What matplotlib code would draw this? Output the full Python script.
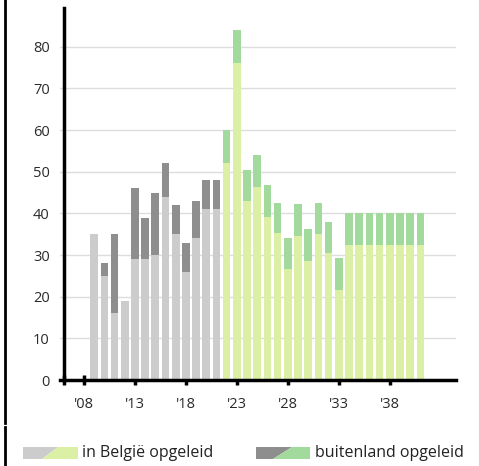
import matplotlib.pyplot as plt
from matplotlib.patches import Polygon
from matplotlib.lines import Line2D

plt.rcParams['font.family'] = ['Open Sans', 'DejaVu Sans']

# observed years (grey) and projection years (green)
years_obs = list(range(2009, 2022))
belg_obs = [35, 25, 16, 19, 29, 29, 30, 44, 35, 26, 34, 41, 41]
total_obs = [35, 28, 35, 19, 46, 39, 45, 52, 42, 33, 43, 48, 48]

years_proj = list(range(2022, 2042))
belg_proj = [52, 76, 43, 46.4, 39.2, 35.2, 26.6, 34.6, 28.6, 35, 30.4, 21.6,
             32.4, 32.4, 32.4, 32.4, 32.4, 32.4, 32.4, 32.4]
total_proj = [60, 84, 50.4, 54, 46.8, 42.6, 34.2, 42.2, 36.3, 42.6, 38, 29.2,
              40, 40, 40, 40, 40, 40, 40, 40]

xticks = [2008, 2013, 2018, 2023, 2028, 2033, 2038]
xticklabels = ["'08", "'13", "'18", "'23", "'28", "'33", "'38"]
yticks = [0, 10, 20, 30, 40, 50, 60, 70, 80]

legend_labels = ['in België opgeleid', 'buitenland opgeleid']

LIGHT_GREY = '#cccccc'
DARK_GREY = '#8e8e8e'
LIGHT_GREEN = '#dbf0a5'
DARK_GREEN = '#a2d99c'

fig = plt.figure(figsize=(4.79, 4.66), dpi=100)
ax = fig.add_axes([60 / 479, 1 - 380 / 466, (456 - 60) / 479, (380 - 8) / 466])

w = 0.75
abroad_obs = [t - b for t, b in zip(total_obs, belg_obs)]
abroad_proj = [t - b for t, b in zip(total_proj, belg_proj)]
ax.bar(years_obs, belg_obs, width=w, color=LIGHT_GREY, zorder=2)
ax.bar(years_obs, abroad_obs, bottom=belg_obs, width=w, color=DARK_GREY, zorder=2)
ax.bar(years_proj, belg_proj, width=w, color=LIGHT_GREEN, zorder=2)
ax.bar(years_proj, abroad_proj, bottom=belg_proj, width=w, color=DARK_GREEN, zorder=2)

ax.set_xlim(2005.65, 2044.5)
ax.set_ylim(0, 89.3)

for s in ['top', 'right']:
    ax.spines[s].set_visible(False)
ax.spines['left'].set_position(('data', 2006))
ax.spines['left'].set_linewidth(2.5)
ax.spines['bottom'].set_linewidth(2.5)

ax.set_yticks(yticks)
ax.yaxis.grid(True, color='#dddddd', linewidth=1, zorder=0)
ax.tick_params(axis='y', length=0, pad=10, labelsize=10.5, labelcolor='#2a2a2a')

ax.set_xticks(xticks)
ax.set_xticklabels(xticklabels)
ax.set_xticks([2006], minor=True)
ax.tick_params(axis='x', which='both', direction='inout', length=7, width=2.5,
               pad=9, labelsize=10.5, labelcolor='#2a2a2a')

# legend swatches with diagonal split
def swatch(x0, x1, xa, xb, c1, c2):
    y0, y1 = 1 - 459 / 466, 1 - 447 / 466
    X = lambda p: p / 479
    fig.add_artist(Polygon([(X(x0), y0), (X(xa), y0), (X(xb), y1), (X(x0), y1)],
                           closed=True, facecolor=c1, edgecolor='none'))
    fig.add_artist(Polygon([(X(xa), y0), (X(x1), y0), (X(x1), y1), (X(xb), y1)],
                           closed=True, facecolor=c2, edgecolor='none'))

swatch(23, 78, 42, 58, LIGHT_GREY, LIGHT_GREEN)
swatch(256, 310, 273, 292, DARK_GREY, DARK_GREEN)
fig.text(82 / 479, 1 - 453 / 466, legend_labels[0], fontsize=11.5, va='center', color='#222222')
fig.text(315 / 479, 1 - 453 / 466, legend_labels[1], fontsize=11.5, va='center', color='#222222')

# border line fragments on the left
fig.add_artist(Line2D([5 / 479, 5 / 479], [1, 1 - 423 / 466], color='black', linewidth=2))
fig.add_artist(Line2D([5 / 479, 5 / 479], [1 - 427 / 466, 0], color='black', linewidth=2))

fig.savefig('out.png', dpi=100)
